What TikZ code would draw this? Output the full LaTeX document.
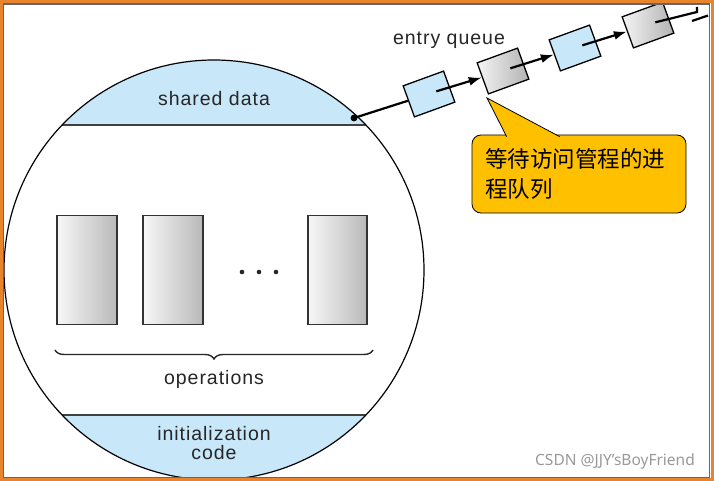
\documentclass[tikz,border=0pt]{standalone}
\usepackage{fontspec}
\setmainfont{Liberation Sans}
\newfontfamily\lblfont[LetterSpace=5]{Liberation Sans}
\newfontfamily\cjk{Noto Sans CJK SC}
\newfontfamily\wmfont{Noto Sans}
\usetikzlibrary{arrows.meta,decorations.pathreplacing,calc}
\definecolor{bandblue}{HTML}{C8E8FA}
\definecolor{calloutfill}{HTML}{FFC000}
\definecolor{frameorange}{HTML}{E8842E}
\tikzset{
  lbl/.style={font=\lblfont\fontsize{19.5}{20}\selectfont, text=black!85, inner sep=0, align=center},
  opbox/.style={draw=black!80, line width=1.2pt, left color=gray!6, right color=gray!55,
    minimum width=60pt, minimum height=109pt, inner sep=0},
  qblue/.style={draw=black, line width=1.3pt, fill=bandblue, minimum width=43pt,
    minimum height=33pt, rotate=20, inner sep=0},
  qgray/.style={draw=black, line width=1.3pt, left color=gray!8, right color=gray!60,
    minimum width=43pt, minimum height=33pt, rotate=20, inner sep=0},
  qline/.style={line width=2.2pt, black},
  qarrow/.style={qline, -{Latex[length=13pt,width=9pt]}},
  calloutbox/.style={draw=black, line width=0.8pt, fill=calloutfill, rounded corners=9pt,
    minimum width=214pt, minimum height=78pt, text width=188pt, inner xsep=13pt,
    align=left, font=\cjk\fontsize{22.5}{30}\selectfont},
}
\begin{document}
\begin{tikzpicture}[x=1pt,y=-1pt]
\useasboundingbox (0,0) rectangle (714,481);
\fill[white] (0,0) rectangle (714,481);
\begin{scope}
  \clip (0,0) rectangle (714,481);
  % monitor circle with bands
  \begin{scope}
    \clip (214,270) circle (210pt);
    \fill[bandblue] (0,55) rectangle (430,125);
    \fill[bandblue] (0,415) rectangle (430,485);
    \draw[line width=1.3pt, black!75] (0,125) -- (430,125);
    \draw[line width=1.3pt, black!75] (0,415) -- (430,415);
  \end{scope}
  \draw[line width=1.2pt, black] (214,270) circle (210pt);

  \node[lbl] (shared) at (214,99) {shared data};
  \node[lbl] (init) at (214,443) {initialization\\[-0.5pt]code};

  % operations
  \node[opbox] (op1) at (87,270) {};
  \node[opbox] (op2) at (173,270) {};
  \node[opbox, minimum width=59pt] (op3) at (337.5,270) {};
  \foreach \x in {242,259,276} \fill[black!85] (\x,272) circle (2.3pt);
  \draw[black!85, line width=1.4pt, decorate, decoration={brace, mirror, amplitude=9pt}]
    (55,350) -- (373,350);
  \node[lbl] (ops) at (214,379) {operations};

  % entry queue
  \node[lbl] (eq) at (449,40) {entry queue};
  \coordinate (dot) at (354,118);
  \node[qblue] (q1) at (429,94) {};
  \node[qgray] (q2) at (503,71) {};
  \node[qblue] (q3) at (575,48) {};
  \node[qgray] (q4) at (648,25) {};
  \coordinate (qend) at (697,12);
  \draw[qline] (dot) -- (q1);
  \draw[qarrow] ($(q1.center)!0.35!(q1.east)$) -- (q2);
  \draw[qarrow] ($(q2.center)!0.35!(q2.east)$) -- (q3);
  \draw[qarrow] ($(q3.center)!0.35!(q3.east)$) -- (q4);
  \draw[qline] ($(q4.center)!0.35!(q4.east)$) -- (qend) -- ++(0,-5);
  \draw[qline] (692,21) -- (708,15.5);
  \fill[black] (dot) circle (3.4pt);

  % callout
  \node[calloutbox] (call) at (579,174) {等待访问管程的进\\程队列};
  \coordinate (tip) at (487,98);
  \filldraw[fill=calloutfill, draw=black, line width=0.8pt]
    ($(call.north west)+(35,2)$) -- (tip) -- ($(call.north west)+(88,2)$);

  % watermark
  \node[font=\wmfont\fontsize{15.5}{17}\selectfont, text=black!40, inner sep=0] (wm)
    at (615,461) {CSDN @JJY’sBoyFriend};
\end{scope}
% frame
\draw[frameorange, line width=2.6pt] (1.3,1.3) rectangle (712.7,479.7);
\draw[black!60, line width=1.1pt] (3.6,4) rectangle (709.2,477.4);
\end{tikzpicture}
\end{document}
